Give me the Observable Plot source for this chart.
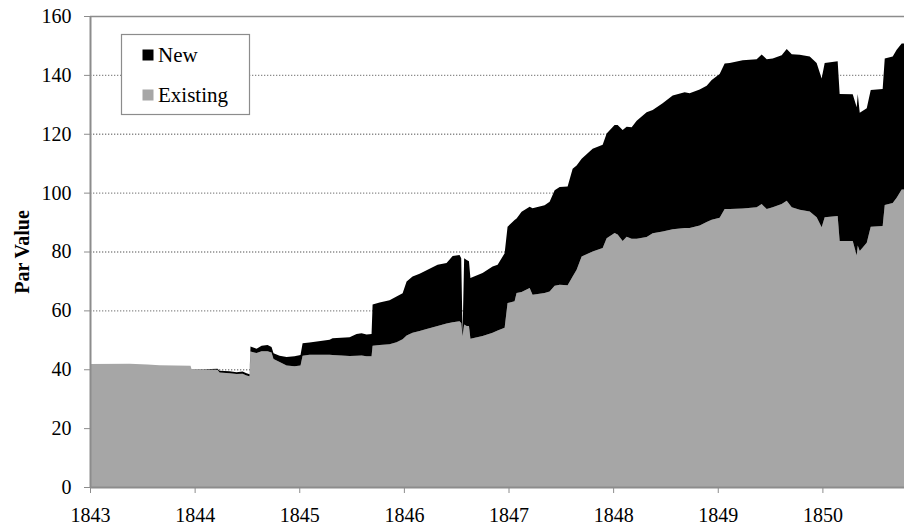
<!DOCTYPE html>
<html><head><meta charset="utf-8">
<script src="https://cdn.jsdelivr.net/npm/d3@7"></script>
<script src="https://cdn.jsdelivr.net/npm/@observablehq/plot@0.6"></script>
<style>
body{margin:0;background:#fff;}
#wrap{position:relative;width:904px;height:526px;font-family:"Liberation Serif","Times New Roman",serif;}
</style></head><body><div id="wrap"></div>
<script>
const years = [1843.000,1843.378,1843.550,1843.664,1843.961,1843.970,1844.095,1844.219,1844.238,1844.334,1844.401,1844.458,1844.496,1844.525,1844.534,1844.592,1844.640,1844.697,1844.735,1844.754,1844.812,1844.879,1844.955,1845.012,1845.032,1845.098,1845.290,1845.318,1845.481,1845.548,1845.596,1845.643,1845.691,1845.701,1845.768,1845.863,1845.930,1845.988,1846.026,1846.083,1846.150,1846.217,1846.322,1846.408,1846.466,1846.532,1846.548,1846.561,1846.576,1846.600,1846.622,1846.636,1846.752,1846.848,1846.896,1846.963,1846.991,1847.058,1847.077,1847.125,1847.202,1847.230,1847.345,1847.393,1847.441,1847.489,1847.565,1847.613,1847.651,1847.699,1847.804,1847.900,1847.938,1848.014,1848.043,1848.091,1848.129,1848.177,1848.225,1848.320,1848.378,1848.473,1848.569,1848.684,1848.731,1848.827,1848.894,1848.942,1849.018,1849.066,1849.114,1849.238,1849.372,1849.420,1849.468,1849.525,1849.611,1849.659,1849.707,1849.783,1849.879,1849.945,1849.993,1850.022,1850.146,1850.165,1850.290,1850.328,1850.338,1850.357,1850.424,1850.462,1850.576,1850.596,1850.672,1850.710,1850.758,1850.780];
const existing = [41.8,41.9,41.6,41.4,41.2,40.1,39.9,39.8,38.9,38.6,38.4,38.5,37.9,37.6,46.0,45.5,46.1,46.1,45.7,43.5,42.5,41.3,41.0,41.3,44.6,44.9,44.9,44.8,44.5,44.6,44.7,44.4,44.4,48.0,48.2,48.5,49.2,50.2,51.5,52.4,53.0,53.7,54.7,55.5,56.0,56.3,55.7,51.2,55.2,54.7,54.7,50.4,51.3,52.4,53.2,54.1,62.5,63.1,65.9,66.2,67.6,65.3,65.9,66.4,68.4,68.7,68.5,71.5,73.8,78.3,80.0,81.2,84.5,86.3,85.8,83.6,85.0,84.3,84.3,84.9,86.2,86.8,87.6,88.0,88.0,88.8,90.0,90.8,91.5,94.4,94.4,94.6,95.0,96.1,94.4,95.0,96.1,97.2,95.0,94.2,93.6,91.6,88.2,91.6,92.1,83.6,83.6,78.6,82.0,80.2,83.0,88.4,88.7,95.8,96.5,98.3,101.1,101.1];
const total = [41.8,41.9,41.6,41.4,41.2,40.1,40.0,40.2,39.5,39.3,39.0,39.2,38.6,38.3,47.7,47.0,48.0,48.2,47.6,45.4,44.6,44.2,44.4,44.8,48.8,49.1,50.0,50.5,50.9,52.0,52.2,51.8,52.0,62.0,62.7,63.4,64.7,65.8,69.8,71.5,72.4,73.6,75.5,76.1,78.5,78.8,77.7,51.8,77.7,77.1,76.7,71.0,72.7,74.9,75.5,79.4,88.4,90.7,91.2,93.5,95.2,94.7,95.7,96.9,100.8,101.9,102.1,108.1,109.2,111.5,114.9,116.3,120.1,123.0,123.0,121.3,122.4,122.2,124.4,127.3,128.1,130.4,133.0,134.1,133.8,135.0,136.3,138.3,140.3,143.9,144.0,145.0,145.3,146.9,145.3,145.6,146.7,148.8,147.0,146.8,146.2,144.0,138.8,144.0,144.6,133.5,133.4,129.0,133.5,127.1,128.7,134.9,135.2,145.6,146.2,148.5,150.7,150.7];
const seriesNames = ["New", "Existing"];
const seriesColors = ["#000000", "#a6a6a6"];
const xTicks = [1843,1844,1845,1846,1847,1848,1849,1850];
const yTicks = [0,20,40,60,80,100,120,140,160];

const rows = years.map((y, i) => ({year: y, existing: existing[i], total: total[i]}));

const chart = Plot.plot({
  width: 904, height: 526,
  marginLeft: 90, marginRight: 0, marginTop: 16, marginBottom: 39,
  style: {fontFamily: '"Liberation Serif","Times New Roman",serif', fontSize: "20px", background: "#fff", color: "#000"},
  x: {domain: [1843, 1850.78], label: null},
  y: {domain: [0, 160], label: null},
  marks: [
    Plot.ruleY(yTicks.filter(v => v > 0 && v < 160), {stroke: "#8c8c8c", strokeWidth: 1.3, strokeDasharray: "1.3,1.7"}),
    Plot.areaY(rows, {x: "year", y1: 0, y2: "existing", fill: seriesColors[1]}),
    Plot.areaY(rows, {x: "year", y1: "existing", y2: "total", fill: seriesColors[0]}),
    Plot.ruleY([yTicks[yTicks.length - 1]], {stroke: "#8c8c8c", strokeWidth: 1.6}),
    Plot.ruleX([xTicks[0]], {stroke: "#8c8c8c", strokeWidth: 2}),
    Plot.ruleY([0], {stroke: "#8c8c8c", strokeWidth: 2}),
    Plot.axisY({ticks: yTicks, tickSize: 6, tickPadding: 13, fontSize: 20, stroke: "#8c8c8c", fill: "#000", label: null}),
    Plot.axisX({ticks: xTicks, tickSize: 6, tickPadding: 14, fontSize: 20, stroke: "#8c8c8c", fill: "#000", tickFormat: d => String(d), label: null}),
    Plot.text(["Par Value"], {frameAnchor: "left", dx: -68, rotate: -90, textAnchor: "middle", lineAnchor: "middle", fontWeight: "bold", fontSize: 20, fill: "#000"})
  ]
});

document.getElementById("wrap").appendChild(chart);

// legend drawn into the SVG
const svg = d3.select(chart);
const lg = svg.append("g").attr("text-anchor", "start");
lg.append("rect").attr("x", 121.5).attr("y", 34.5).attr("width", 128).attr("height", 80)
  .attr("fill", "#fff").attr("stroke", "#8c8c8c").attr("stroke-width", 1.2);
seriesNames.forEach((name, i) => {
  const cy = 49.5 + i * 40;
  lg.append("rect").attr("x", 142.5).attr("y", cy).attr("width", 11).attr("height", 11).attr("fill", seriesColors[i]);
  lg.append("text").attr("x", 158).attr("y", 61.5 + i * 40)
    .attr("text-anchor", "start")
    .attr("font-size", 21).attr("fill", "#000")
    .attr("font-family", '"Liberation Serif","Times New Roman",serif').text(name);
});
</script>
</body></html>
